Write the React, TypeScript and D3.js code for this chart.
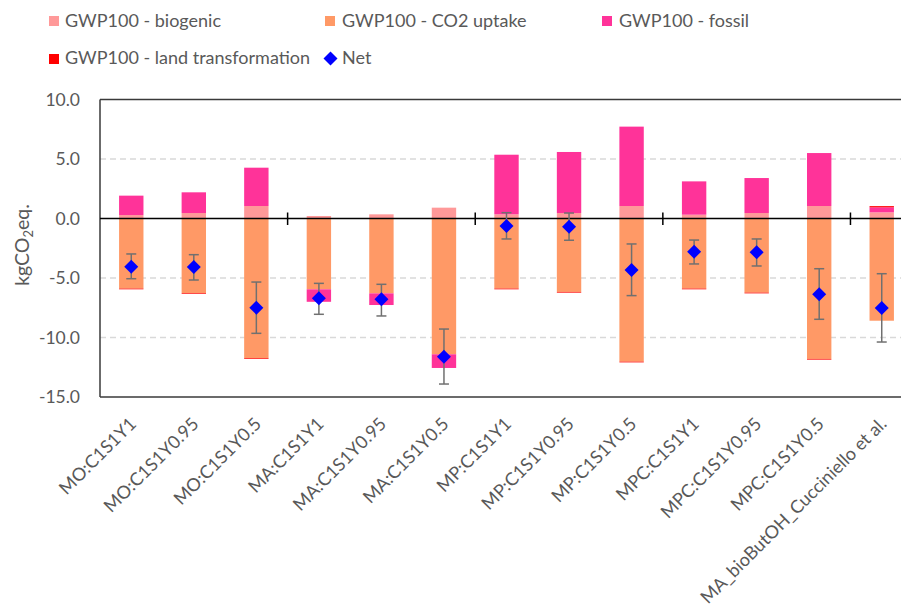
import React from "react";
import * as d3 from "d3";

const categories = [
  "MO:C1S1Y1", "MO:C1S1Y0.95", "MO:C1S1Y0.5",
  "MA:C1S1Y1", "MA:C1S1Y0.95", "MA:C1S1Y0.5",
  "MP:C1S1Y1", "MP:C1S1Y0.95", "MP:C1S1Y0.5",
  "MPC:C1S1Y1", "MPC:C1S1Y0.95", "MPC:C1S1Y0.5",
  "MA_bioButOH_Cucciniello et al.",
];

const biogenic = [0.29, 0.46, 1.05, 0.21, 0.35, 0.91, 0.35, 0.46, 1.05, 0.32, 0.46, 1.05, 0.52];
const co2Uptake = [-5.89, -6.26, -11.74, -5.95, -6.29, -11.41, -5.89, -6.17, -12.03, -5.89, -6.23, -11.8, -8.59];
const fossil = [1.63, 1.74, 3.22, -1.05, -0.98, -1.15, 5.01, 5.13, 6.67, 2.8, 2.94, 4.45, 0.42];
const landTransf = [-0.06, -0.06, -0.06, 0, 0, 0, -0.06, -0.06, -0.06, -0.06, -0.06, -0.06, 0.1];
const net = [-4.05, -4.08, -7.49, -6.71, -6.79, -11.61, -0.63, -0.69, -4.33, -2.79, -2.84, -6.37, -7.52];
const errHigh = [-2.98, -3.04, -5.34, -5.45, -5.53, -9.29, 0.49, 0.46, -2.14, -1.81, -1.72, -4.22, -4.64];
const errLow = [-5.06, -5.17, -9.65, -8.05, -8.19, -13.91, -1.72, -1.83, -6.48, -3.82, -3.99, -8.47, -10.38];

const seriesKeys = ["biogenic", "co2", "fossil", "land"];
const seriesColors: Record<string, string> = {
  biogenic: "#FF9999",
  co2: "#FF9966",
  fossil: "#FF3399",
  land: "#FF0000",
};
const yTicks = [10, 5, 0, -5, -10, -15];

const W = 901;
const H = 608;
const left = 100;
const right = 913;
const top = 99.5;
const bottom = 397;
const font = "Lato, 'Open Sans', sans-serif";
const textColor = "#595959";

export default function App() {
  const rows = categories.map((c, i) => ({
    cat: c,
    biogenic: biogenic[i],
    co2: co2Uptake[i],
    fossil: fossil[i],
    land: landTransf[i],
  }));

  const stacked = d3.stack<any>().keys(seriesKeys).offset(d3.stackOffsetDiverging)(rows);

  const x = d3.scaleBand().domain(categories).range([left, right]).paddingInner(0.61).paddingOuter(0.305);
  const y = d3.scaleLinear().domain([-15, 10]).range([bottom, top]);
  const step = x.step();
  const cx = (c: string) => (x(c) as number) + x.bandwidth() / 2;

  const sepTicks = [3, 6, 9, 12].map((k) => left + (step * k));

  return (
    <svg width={W} height={H} style={{ position: "absolute", left: 0, top: 0, background: "#fff" }}>
      {/* grid */}
      {yTicks.filter((t) => t !== 10 && t !== -15 && t !== 0).map((t) => (
        <line key={t} x1={left} x2={right} y1={y(t)} y2={y(t)} stroke="#d9d9d9" strokeWidth={1.5} strokeDasharray="6,4" />
      ))}

      {/* stacked bars */}
      {stacked.map((s) => (
        <g key={s.key} fill={seriesColors[s.key]}>
          {s.map((d, i) => {
            const y0 = y(d[1]);
            const y1 = y(d[0]);
            if (Math.abs(y1 - y0) < 0.01) return null;
            return (
              <rect key={i} x={x(categories[i])} width={x.bandwidth()} y={Math.min(y0, y1)} height={Math.abs(y1 - y0)} />
            );
          })}
        </g>
      ))}

      {/* frame */}
      <line x1={left} x2={right} y1={top} y2={top} stroke="#3a3a3a" strokeWidth={1.5} />
      <line x1={left} x2={right} y1={bottom} y2={bottom} stroke="#3a3a3a" strokeWidth={1.5} />
      <line x1={left} x2={left} y1={top} y2={bottom} stroke="#3a3a3a" strokeWidth={1.5} />

      {/* zero axis */}
      <line x1={left} x2={right} y1={y(0)} y2={y(0)} stroke="#000" strokeWidth={1.5} />
      {sepTicks.map((sx, i) => (
        <line key={i} x1={sx} x2={sx} y1={y(0) - 6} y2={y(0) + 6.5} stroke="#000" strokeWidth={1.5} />
      ))}

      {/* error bars + net */}
      {categories.map((c, i) => {
        const px = cx(c);
        return (
          <g key={c}>
            <line x1={px} x2={px} y1={y(errHigh[i])} y2={y(errLow[i])} stroke="#707070" strokeWidth={1.5} />
            <line x1={px - 5} x2={px + 5} y1={y(errHigh[i])} y2={y(errHigh[i])} stroke="#707070" strokeWidth={1.5} />
            <line x1={px - 5} x2={px + 5} y1={y(errLow[i])} y2={y(errLow[i])} stroke="#707070" strokeWidth={1.5} />
            <path
              d={`M${px},${y(net[i]) - 7}L${px + 7},${y(net[i])}L${px},${y(net[i]) + 7}L${px - 7},${y(net[i])}Z`}
              fill="#0000FF"
            />
          </g>
        );
      })}

      {/* y ticks */}
      {yTicks.map((t) => (
        <text key={t} x={80} y={y(t) + 6} textAnchor="end" fontFamily={font} fontSize={17.5} fill={textColor}>
          {t.toFixed(1)}
        </text>
      ))}

      {/* y title */}
      <text transform="translate(29,245) rotate(-90)" textAnchor="middle" fontFamily={font} fontSize={19.5} fill={textColor}>
        kgCO<tspan fontSize={13} dy={4}>2</tspan><tspan dy={-4}>eq.</tspan>
      </text>

      {/* x labels */}
      {categories.map((c) => (
        <text
          key={c}
          transform={`translate(${cx(c) + 6},${425}) rotate(-45)`}
          textAnchor="end"
          fontFamily={font}
          fontSize={18}
          fill={textColor}
        >
          {c}
        </text>
      ))}

      {/* legend */}
      <g fontFamily={font} fontSize={18} fill={textColor}>
        <rect x={49} y={16} width={10} height={10} fill={seriesColors.biogenic} />
        <text x={65} y={27}>GWP100 - biogenic</text>
        <rect x={325} y={16} width={10} height={10} fill={seriesColors.co2} />
        <text x={342} y={27}>GWP100 - CO2 uptake</text>
        <rect x={602} y={16} width={10} height={10} fill={seriesColors.fossil} />
        <text x={619} y={27}>GWP100 - fossil</text>
        <rect x={49} y={54} width={10} height={10} fill={seriesColors.land} />
        <text x={65} y={64}>GWP100 - land transformation</text>
        <path d="M330.5,51.5L337.5,58.5L330.5,65.5L323.5,58.5Z" fill="#0000FF" />
        <text x={342} y={64}>Net</text>
      </g>
    </svg>
  );
}
